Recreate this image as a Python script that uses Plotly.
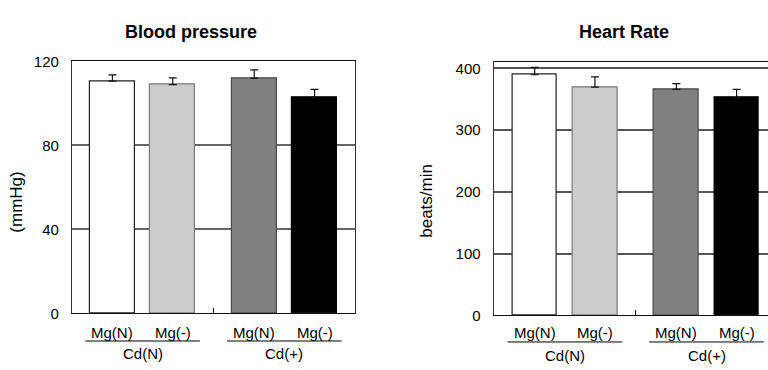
import plotly.graph_objects as go

# ---- data ----
bar_labels = ["Mg(N)", "Mg(-)", "Mg(N)", "Mg(-)"]
group_labels = ["Cd(N)", "Cd(+)"]
bp_values = [110.6, 109.0, 112.1, 102.9]
bp_errors = [3.0, 3.2, 3.9, 3.8]
hr_values = [389.5, 369.4, 365.8, 352.4]
hr_errors = [12.0, 16.5, 9.3, 13.4]
bp_ticks = [0, 40, 80, 120]
hr_ticks = [0, 100, 200, 300, 400]

# ---- layout constants ----
xpos = [1, 2, 3.35, 4.35]
group_centers = [1.5, 3.85]
colors = ["#ffffff", "#cccccc", "#808080", "#000000"]
edge_colors = ["#222222", "#7a7a7a", "#4a4a4a", "#000000"]
FONT = "Liberation Sans, Arial, sans-serif"
W, H = 768, 370

fig = go.Figure()

def add_bars(values, errors, xa, ya):
    fig.add_trace(go.Bar(
        x=xpos, y=values, width=0.744,
        marker=dict(color=colors, line=dict(color=edge_colors, width=1.2)),
        error_y=dict(type="data", symmetric=False, array=errors,
                     arrayminus=[0] * len(errors), color="#111111",
                     thickness=1.2, width=4),
        xaxis=xa, yaxis=ya, showlegend=False, hoverinfo="skip"))

add_bars(bp_values, bp_errors, "x", "y")
add_bars(hr_values, hr_errors, "x2", "y2")

mid_tick = (xpos[1] + xpos[2]) / 2

axis_common = dict(showgrid=False, zeroline=False, showline=True,
                   linecolor="#111111", linewidth=1,
                   tickvals=[mid_tick], ticks="inside", ticklen=5,
                   tickcolor="#111111", showticklabels=False, fixedrange=True)

fig.update_layout(
    width=W, height=H,
    margin=dict(l=0, r=0, t=0, b=0),
    paper_bgcolor="white", plot_bgcolor="white",
    font=dict(family=FONT, size=15, color="#000000"),
    bargap=0,
    xaxis=dict(domain=[72 / W, 355 / W], range=[0.33, 5.02], mirror=True,
               anchor="y", **axis_common),
    yaxis=dict(domain=[1 - 319 / H, 1 - 55 / H], range=[0, 120],
               tickvals=bp_ticks, showgrid=True, gridcolor="#666666",
               gridwidth=1.5, zeroline=False, showline=True, mirror=True,
               linecolor="#333333", linewidth=1.2, ticks="outside", ticklen=9,
               tickcolor="rgba(0,0,0,0)", anchor="x",
               tickfont=dict(size=15), fixedrange=True),
    xaxis2=dict(domain=[493.7 / W, 1], range=[0.32, 4.87], mirror=False,
                anchor="y2", **axis_common),
    yaxis2=dict(domain=[1 - 321 / H, 1 - 55 / H], range=[0, 411],
                tickvals=hr_ticks, showgrid=True, gridcolor="#555555",
                gridwidth=1.5, zeroline=False, showline=True, mirror=False,
                linecolor="#333333", linewidth=1.2, ticks="outside", ticklen=9,
                tickcolor="rgba(0,0,0,0)", anchor="x2",
                tickfont=dict(size=15), fixedrange=True),
)

# top frame line for right panel
fig.add_shape(type="line", xref="x2 domain", yref="y2 domain",
              x0=0, x1=1, y0=1, y1=1, line=dict(color="#111111", width=1))

annotations = []
shapes = []
for xa, lab_y, line_y, grp_y in (("x", 339, 348, 361), ("x2", 339, 349, 363)):
    for xp, lab in zip(xpos, bar_labels):
        annotations.append(dict(x=xp, y=1 - lab_y / H, xref=xa, yref="paper",
                                text=lab, showarrow=False,
                                font=dict(size=15), xanchor="center",
                                yanchor="middle"))
    for gc, g in zip(group_centers, group_labels):
        annotations.append(dict(x=gc, y=1 - grp_y / H, xref=xa, yref="paper",
                                text=g, showarrow=False,
                                font=dict(size=15), xanchor="center",
                                yanchor="middle"))
        shapes.append(dict(type="line", xref=xa, yref="paper",
                           x0=gc - 0.95, x1=gc + 0.95,
                           y0=1 - line_y / H, y1=1 - line_y / H,
                           line=dict(color="#000000", width=1)))

# titles
annotations.append(dict(x=191 / W, y=1 - 24 / H, xref="paper", yref="paper",
                        text="<b>Blood pressure</b>", showarrow=False,
                        font=dict(size=18), xanchor="center", yanchor="middle"))
annotations.append(dict(x=624 / W, y=1 - 24 / H, xref="paper", yref="paper",
                        text="<b>Heart Rate</b>", showarrow=False,
                        font=dict(size=18), xanchor="center", yanchor="middle"))
# axis titles
annotations.append(dict(x=17 / W, y=1 - 203 / H, xref="paper", yref="paper",
                        text="(mmHg)", textangle=-90, showarrow=False,
                        font=dict(size=17), xanchor="center", yanchor="middle"))
annotations.append(dict(x=427 / W, y=1 - 201 / H, xref="paper", yref="paper",
                        text="beats/min", textangle=-90, showarrow=False,
                        font=dict(size=17), xanchor="center", yanchor="middle"))

fig.update_layout(annotations=annotations)
for s in shapes:
    fig.add_shape(**s)

fig.write_html(
    "out.html",
    config={"displayModeBar": False},
    post_script="document.body.style.margin='0';"
                "document.body.style.overflow='hidden';",
)
